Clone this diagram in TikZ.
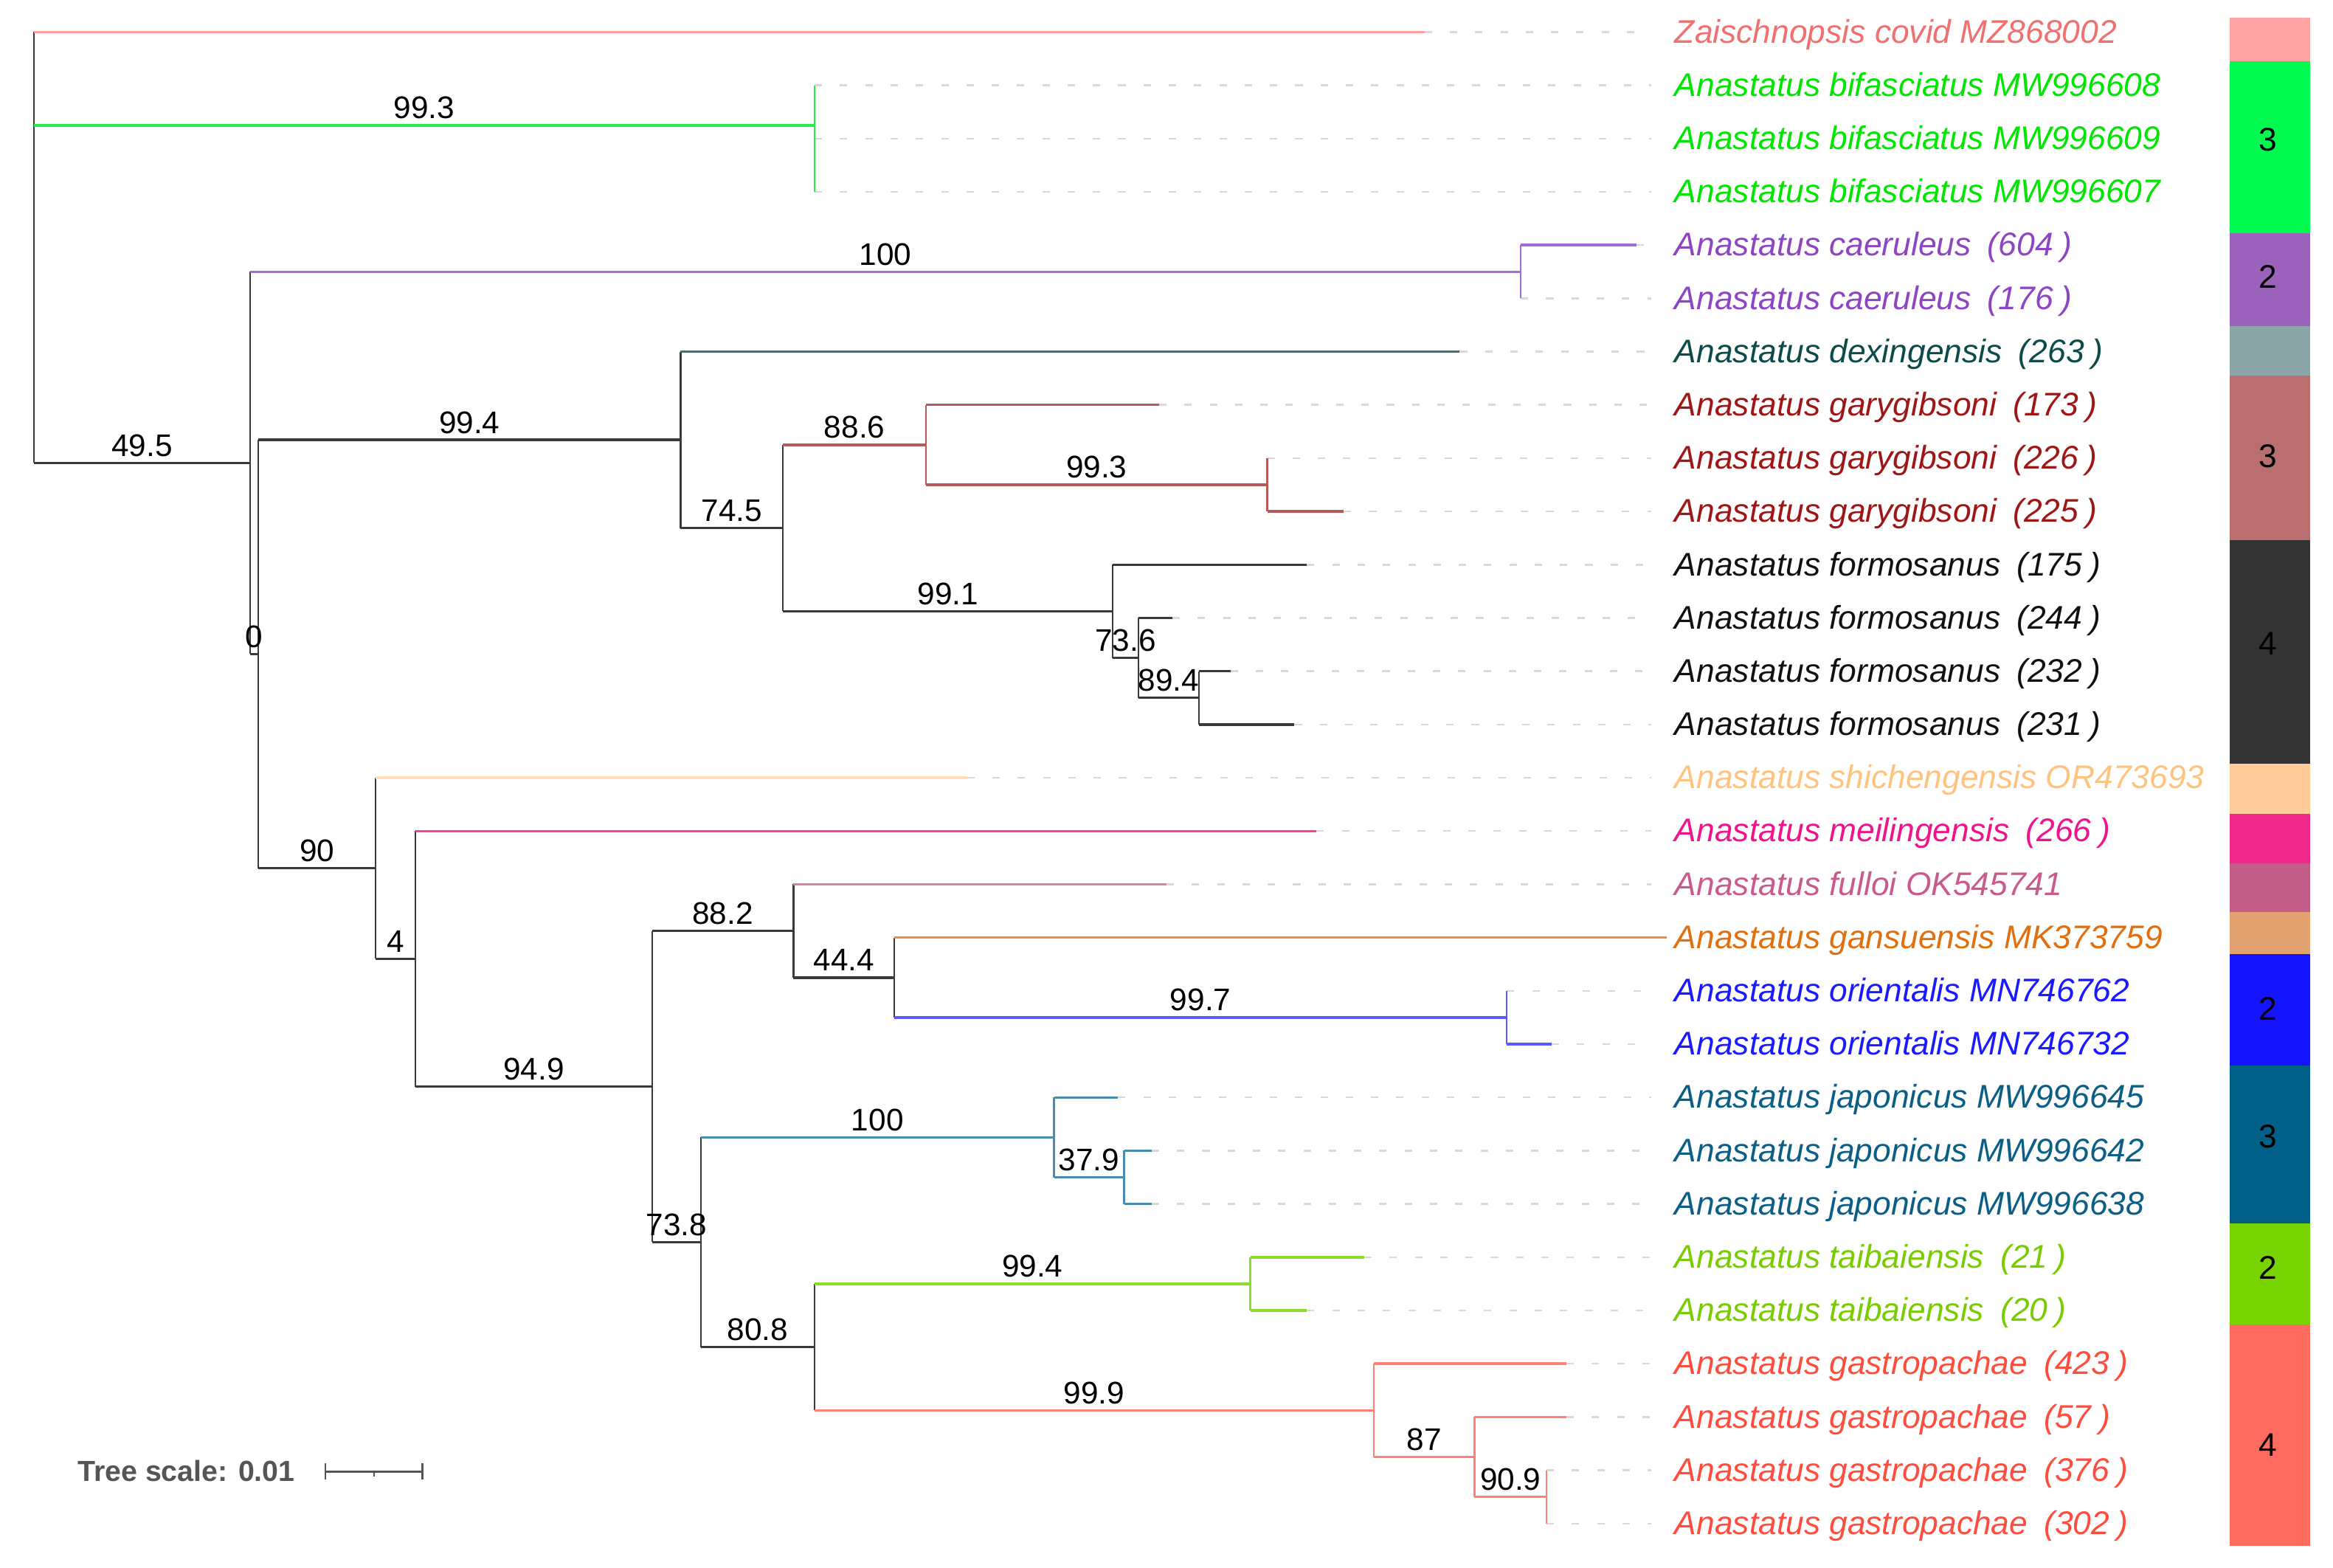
\documentclass[tikz,border=0pt]{standalone}
\usepackage{fontspec}
\setmainfont{Liberation Sans}
\usetikzlibrary{calc}
% branch colours
\definecolor{treeK}{HTML}{3A3A3A}
\definecolor{zaiB}{HTML}{FF9E9E}
\definecolor{bifB}{HTML}{22EE44}
\definecolor{caeB}{HTML}{A46BD4}
\definecolor{dexB}{HTML}{3F7177}
\definecolor{garB}{HTML}{B35A5A}
\definecolor{shiB}{HTML}{FFDDB8}
\definecolor{meiB}{HTML}{FF3D9A}
\definecolor{fulB}{HTML}{D3859F}
\definecolor{ganB}{HTML}{E0904C}
\definecolor{oriB}{HTML}{5A5AFF}
\definecolor{japB}{HTML}{4A8CB0}
\definecolor{taiB}{HTML}{8CDC2C}
\definecolor{gasB}{HTML}{FF8078}
% label colours
\definecolor{zaiL}{HTML}{F07070}
\definecolor{bifL}{HTML}{00E600}
\definecolor{caeL}{HTML}{8E45C4}
\definecolor{dexL}{HTML}{0D4A4A}
\definecolor{garL}{HTML}{9E1616}
\definecolor{frmL}{HTML}{111111}
\definecolor{shiL}{HTML}{FFC380}
\definecolor{meiL}{HTML}{F0148C}
\definecolor{fulL}{HTML}{C85A8C}
\definecolor{ganL}{HTML}{E0700F}
\definecolor{oriL}{HTML}{1A1AFF}
\definecolor{japL}{HTML}{0B5E85}
\definecolor{taiL}{HTML}{78CC00}
\definecolor{gasL}{HTML}{FF4D3D}
% strip colours
\definecolor{zaiS}{HTML}{FFA3A3}
\definecolor{bifS}{HTML}{00FA50}
\definecolor{caeS}{HTML}{9B62BB}
\definecolor{dexS}{HTML}{8CA5A9}
\definecolor{garS}{HTML}{B96F6F}
\definecolor{frmS}{HTML}{333333}
\definecolor{shiS}{HTML}{FFCC99}
\definecolor{meiS}{HTML}{F0288A}
\definecolor{fulS}{HTML}{C45C88}
\definecolor{ganS}{HTML}{E2A26F}
\definecolor{oriS}{HTML}{1414FF}
\definecolor{japS}{HTML}{006088}
\definecolor{taiS}{HTML}{77D400}
\definecolor{gasS}{HTML}{FF6B5E}
\definecolor{leadC}{HTML}{D8D8D8}
\definecolor{scaleC}{HTML}{555555}

\newcommand\tbranch[3]{\draw[hb,#3] (#1 |- #2) -- (#2);}
\newcommand\tvert[4]{\draw[vb,#4] (#1 |- #2) -- (#1 |- #3);}
\newcommand\tsup[4]{\path (#1 |- #2) -- node[bs] (#3) {#4} (#2);}
\newcommand\tlead[1]{\draw[lead] (#1) -- (#1 -| leadend);}
\newcommand\tleaf[4]{\node[lab,text=#2] (#1) at (1125.4,#3) {#4};}
\newcommand\tpn[1]{\hspace{0.5em}(#1\hspace{0.24em})}

\begin{document}
\begin{tikzpicture}[x=1pt,y=-1pt,
  hb/.style={line width=1.7pt},
  vb/.style={line width=1.1pt},
  lead/.style={leadC,line width=1.2pt,dash pattern=on 5pt off 12pt},
  bs/.style={anchor=base,yshift=4.5pt,inner sep=0pt,font=\fontsize{21}{24}\selectfont,text=black},
  lab/.style={anchor=base west,yshift=-7.3pt,inner sep=0pt,font=\fontsize{22}{26}\selectfont\itshape},
  snum/.style={inner sep=0pt,font=\fontsize{22}{26}\selectfont,text=black}]
\useasboundingbox (0,0) rectangle (1568,1053.3);
\fill[white] (0,0) rectangle (1568,1053.3);

\coordinate (leadend) at (1110,0);
% leaf tips
\coordinate (zai) at (957.4,21.5);
\coordinate (b608) at (547.5,57.3);
\coordinate (b609) at (547.5,93.1);
\coordinate (b607) at (547.5,128.9);
\coordinate (c604) at (1099.7,164.7);
\coordinate (c176) at (1022.1,200.5);
\coordinate (dex) at (981.1,236.3);
\coordinate (g173) at (779,272.1);
\coordinate (g226) at (851.7,307.9);
\coordinate (g225) at (903.1,343.7);
\coordinate (f175) at (878.4,379.5);
\coordinate (f244) at (788,415.3);
\coordinate (f232) at (827,451.1);
\coordinate (f231) at (870,486.9);
\coordinate (shi) at (650,522.7);
\coordinate (mei) at (884.8,558.5);
\coordinate (ful) at (784,594.3);
\coordinate (gan) at (1120.4,630.1);
\coordinate (o762) at (1012.7,665.9);
\coordinate (o732) at (1042.9,701.7);
\coordinate (j645) at (751.4,737.5);
\coordinate (j642) at (774,773.3);
\coordinate (j638) at (774,809.1);
\coordinate (t21) at (916.9,844.9);
\coordinate (t20) at (878.4,880.7);
\coordinate (a423) at (1052.8,916.5);
\coordinate (a57) at (1052.8,952.3);
\coordinate (a376) at (1039.4,988.1);
\coordinate (a302) at (1039.4,1023.9);
% internal nodes
\coordinate (root) at (22.8,21.5);
\coordinate (nG) at (547.5,84.2);
\coordinate (n1) at (168,311.1);
\coordinate (nP) at (1022.1,182.6);
\coordinate (n0) at (173.6,439.55);
\coordinate (nA) at (457.4,295.6);
\coordinate (n745) at (526.2,354.9);
\coordinate (n886) at (622.4,298.95);
\coordinate (n993) at (851.7,325.8);
\coordinate (n991) at (747.9,410.8);
\coordinate (n736) at (765,442.15);
\coordinate (n894) at (806,469);
\coordinate (n90) at (252.5,583.5);
\coordinate (n4) at (279.3,644.35);
\coordinate (n949) at (438.2,730.2);
\coordinate (n882) at (533.3,625.6);
\coordinate (n444) at (601.1,656.95);
\coordinate (n997) at (1012.7,683.8);
\coordinate (n738) at (471.1,834.8);
\coordinate (nJ) at (708.4,764.35);
\coordinate (n379) at (755.5,791.2);
\coordinate (n808) at (547.5,905.3);
\coordinate (nT) at (840.3,862.8);
\coordinate (nGa) at (923.3,947.8);
\coordinate (n87) at (991,979.15);
\coordinate (n909) at (1039.4,1006);

% leader lines
\foreach \t in {zai,b608,b609,b607,c604,c176,dex,g173,g226,g225,f175,f244,f232,f231,shi,mei,ful,o762,o732,j645,j642,j638,t21,t20,a423,a57,a376,a302}{\tlead{\t}}

% vertical lines
\tvert{root}{zai}{n1}{treeK}
\tvert{nG}{b608}{b607}{bifB}
\tvert{n1}{nP}{n0}{treeK}
\tvert{nP}{c604}{c176}{caeB}
\tvert{n0}{nA}{n90}{treeK}
\tvert{nA}{dex}{n745}{treeK}
\tvert{n745}{n886}{n991}{treeK}
\tvert{n886}{g173}{n993}{garB}
\tvert{n993}{g226}{g225}{garB}
\tvert{n991}{f175}{n736}{treeK}
\tvert{n736}{f244}{n894}{treeK}
\tvert{n894}{f232}{f231}{treeK}
\tvert{n90}{shi}{n4}{treeK}
\tvert{n4}{mei}{n949}{treeK}
\tvert{n949}{n882}{n738}{treeK}
\tvert{n882}{ful}{n444}{treeK}
\tvert{n444}{gan}{n997}{treeK}
\tvert{n997}{o762}{o732}{oriB}
\tvert{n738}{nJ}{n808}{treeK}
\tvert{nJ}{j645}{n379}{japB}
\tvert{n379}{j642}{j638}{japB}
\tvert{n808}{nT}{nGa}{treeK}
\tvert{nT}{t21}{t20}{taiB}
\tvert{nGa}{a423}{n87}{gasB}
\tvert{n87}{a57}{n909}{gasB}
\tvert{n909}{a376}{a302}{gasB}

% horizontal branches
\tbranch{root}{zai}{zaiB}
\tbranch{root}{nG}{bifB}
\tbranch{root}{n1}{treeK}
\tbranch{n1}{nP}{caeB}
\tbranch{n1}{n0}{treeK}
\tbranch{nP}{c604}{caeB}
\tbranch{n0}{nA}{treeK}
\tbranch{n0}{n90}{treeK}
\tbranch{nA}{dex}{dexB}
\tbranch{nA}{n745}{treeK}
\tbranch{n745}{n886}{garB}
\tbranch{n745}{n991}{treeK}
\tbranch{n886}{g173}{garB}
\tbranch{n886}{n993}{garB}
\tbranch{n993}{g225}{garB}
\tbranch{n991}{f175}{treeK}
\tbranch{n991}{n736}{treeK}
\tbranch{n736}{f244}{treeK}
\tbranch{n736}{n894}{treeK}
\tbranch{n894}{f232}{treeK}
\tbranch{n894}{f231}{treeK}
\tbranch{n90}{shi}{shiB}
\tbranch{n90}{n4}{treeK}
\tbranch{n4}{mei}{meiB}
\tbranch{n4}{n949}{treeK}
\tbranch{n949}{n882}{treeK}
\tbranch{n949}{n738}{treeK}
\tbranch{n882}{ful}{fulB}
\tbranch{n882}{n444}{treeK}
\tbranch{n444}{gan}{ganB}
\tbranch{n444}{n997}{oriB}
\tbranch{n997}{o732}{oriB}
\tbranch{n738}{nJ}{japB}
\tbranch{n738}{n808}{treeK}
\tbranch{nJ}{j645}{japB}
\tbranch{nJ}{n379}{japB}
\tbranch{n379}{j642}{japB}
\tbranch{n379}{j638}{japB}
\tbranch{n808}{nT}{taiB}
\tbranch{n808}{nGa}{gasB}
\tbranch{nT}{t21}{taiB}
\tbranch{nT}{t20}{taiB}
\tbranch{nGa}{a423}{gasB}
\tbranch{nGa}{n87}{gasB}
\tbranch{n87}{a57}{gasB}
\tbranch{n87}{n909}{gasB}

% support values
\tsup{root}{nG}{s1}{99.3}
\tsup{root}{n1}{s2}{49.5}
\tsup{n1}{nP}{s3}{100}
\tsup{n1}{n0}{s4}{0}
\tsup{n0}{nA}{s5}{99.4}
\tsup{n0}{n90}{s6}{90}
\tsup{nA}{n745}{s7}{74.5}
\tsup{n745}{n886}{s8}{88.6}
\tsup{n886}{n993}{s9}{99.3}
\tsup{n745}{n991}{s10}{99.1}
\tsup{n991}{n736}{s11}{73.6}
\tsup{n736}{n894}{s12}{89.4}
\tsup{n90}{n4}{s13}{4}
\tsup{n4}{n949}{s14}{94.9}
\tsup{n949}{n882}{s15}{88.2}
\tsup{n882}{n444}{s16}{44.4}
\tsup{n444}{n997}{s17}{99.7}
\tsup{n949}{n738}{s18}{73.8}
\tsup{n738}{nJ}{s19}{100}
\tsup{nJ}{n379}{s20}{37.9}
\tsup{n738}{n808}{s21}{80.8}
\tsup{n808}{nT}{s22}{99.4}
\tsup{n808}{nGa}{s23}{99.9}
\tsup{nGa}{n87}{s24}{87}
\tsup{n87}{n909}{s25}{90.9}

% leaf labels
\tleaf{L0}{zaiL}{21.5}{Zaischnopsis covid MZ868002}
\tleaf{L1}{bifL}{57.3}{Anastatus bifasciatus MW996608}
\tleaf{L2}{bifL}{93.1}{Anastatus bifasciatus MW996609}
\tleaf{L3}{bifL}{128.9}{Anastatus bifasciatus MW996607}
\tleaf{L4}{caeL}{164.7}{Anastatus caeruleus\tpn{604}}
\tleaf{L5}{caeL}{200.5}{Anastatus caeruleus\tpn{176}}
\tleaf{L6}{dexL}{236.3}{Anastatus dexingensis\tpn{263}}
\tleaf{L7}{garL}{272.1}{Anastatus garygibsoni\tpn{173}}
\tleaf{L8}{garL}{307.9}{Anastatus garygibsoni\tpn{226}}
\tleaf{L9}{garL}{343.7}{Anastatus garygibsoni\tpn{225}}
\tleaf{L10}{frmL}{379.5}{Anastatus formosanus\tpn{175}}
\tleaf{L11}{frmL}{415.3}{Anastatus formosanus\tpn{244}}
\tleaf{L12}{frmL}{451.1}{Anastatus formosanus\tpn{232}}
\tleaf{L13}{frmL}{486.9}{Anastatus formosanus\tpn{231}}
\tleaf{L14}{shiL}{522.7}{Anastatus shichengensis OR473693}
\tleaf{L15}{meiL}{558.5}{Anastatus meilingensis\tpn{266}}
\tleaf{L16}{fulL}{594.3}{Anastatus fulloi OK545741}
\tleaf{L17}{ganL}{630.1}{Anastatus gansuensis MK373759}
\tleaf{L18}{oriL}{665.9}{Anastatus orientalis MN746762}
\tleaf{L19}{oriL}{701.7}{Anastatus orientalis MN746732}
\tleaf{L20}{japL}{737.5}{Anastatus japonicus MW996645}
\tleaf{L21}{japL}{773.3}{Anastatus japonicus MW996642}
\tleaf{L22}{japL}{809.1}{Anastatus japonicus MW996638}
\tleaf{L23}{taiL}{844.9}{Anastatus taibaiensis\tpn{21}}
\tleaf{L24}{taiL}{880.7}{Anastatus taibaiensis\tpn{20}}
\tleaf{L25}{gasL}{916.5}{Anastatus gastropachae\tpn{423}}
\tleaf{L26}{gasL}{952.3}{Anastatus gastropachae\tpn{57}}
\tleaf{L27}{gasL}{988.1}{Anastatus gastropachae\tpn{376}}
\tleaf{L28}{gasL}{1023.9}{Anastatus gastropachae\tpn{302}}

% colour strip
\fill[zaiS] (1498.8,12.1) rectangle (1552.7,41.4);
\fill[bifS] (1498.8,41.4) rectangle (1552.7,156.7);
\fill[caeS] (1498.8,156.7) rectangle (1552.7,219.2);
\fill[dexS] (1498.8,219.2) rectangle (1552.7,252.4);
\fill[garS] (1498.8,252.4) rectangle (1552.7,363);
\fill[frmS] (1498.8,363) rectangle (1552.7,513);
\fill[shiS] (1498.8,513) rectangle (1552.7,547);
\fill[meiS] (1498.8,547) rectangle (1552.7,580);
\fill[fulS] (1498.8,580) rectangle (1552.7,613);
\fill[ganS] (1498.8,613) rectangle (1552.7,641);
\fill[oriS] (1498.8,641) rectangle (1552.7,716);
\fill[japS] (1498.8,716) rectangle (1552.7,822);
\fill[taiS] (1498.8,822) rectangle (1552.7,890);
\fill[gasS] (1498.8,890) rectangle (1552.7,1039);
\node[snum] (N1) at (1524.5,94) {3};
\node[snum] (N2) at (1524.5,186) {2};
\node[snum] (N3) at (1524.5,306.6) {3};
\node[snum] (N4) at (1524.5,432.3) {4};
\node[snum] (N5) at (1524.5,678) {2};
\node[snum] (N6) at (1524.5,764) {3};
\node[snum] (N7) at (1524.5,852) {2};
\node[snum] (N8) at (1524.5,971) {4};

% tree scale
\node[anchor=west,inner sep=0pt,text=scaleC,font=\fontsize{19.5}{22}\selectfont\bfseries] (ts) at (52,988.3) {Tree scale: 0.01};
\coordinate (sb1) at (218.6,988.8);
\coordinate (sb2) at (283.9,988.8);
\coordinate (sbm) at ($(sb1)!0.5!(sb2)$);
\draw[scaleC,line width=1.5pt] (sb1) -- (sb2);
\draw[scaleC,line width=1.3pt] ([yshift=5.5pt]sb1) -- ([yshift=-5.5pt]sb1);
\draw[scaleC,line width=1.3pt] ([yshift=5.5pt]sb2) -- ([yshift=-5.5pt]sb2);
\draw[scaleC,line width=1.1pt] (sbm) -- ([yshift=-3.5pt]sbm);
\end{tikzpicture}
\end{document}
